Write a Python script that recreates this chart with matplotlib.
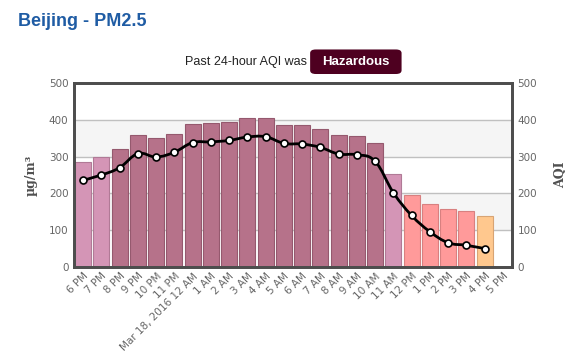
import numpy as np
import matplotlib
matplotlib.use('Agg')
import matplotlib.pyplot as plt
from matplotlib.path import Path
from matplotlib.patches import PathPatch, FancyBboxPatch

# data
hours = ['6 PM', '7 PM', '8 PM', '9 PM', '10 PM', '11 PM', 'Mar 18, 2016 12 AM',
         '1 AM', '2 AM', '3 AM', '4 AM', '5 AM', '6 AM', '7 AM', '8 AM', '9 AM',
         '10 AM', '11 AM', '12 PM', '1 PM', '2 PM', '3 PM', '4 PM', '5 PM']
pm25 = [285, 300, 320, 358, 350, 361, 388, 390, 394, 404, 404, 386, 386, 374,
        358, 355, 336, 252, 195, 170, 157, 151, 138]
aqi = [236, 250, 270, 308, 299, 312, 338, 340, 344, 353, 354, 336, 334, 325,
       307, 305, 287, 202, 140, 96, 66, 59, 50]

# AQI level colours (faded like the original)
def level_color(v):
    if v > 300:
        return '#b6728a', '#95596e'
    if v > 200:
        return '#d495b6', '#b07a96'
    if v > 150:
        return '#ff9a9a', '#d88080'
    return '#ffc88e', '#d8a474'

fig = plt.figure(figsize=(5.68, 3.61), dpi=100)
ax = fig.add_axes([0.1303, 0.2604, 0.7711, 0.5097])
ax2 = ax.twinx()

x = np.arange(len(hours))
ax.set_xlim(-0.5, len(hours) - 0.5)
ax.set_ylim(0, 500)
ax2.set_ylim(0, 500)

# alternating bands + grid
for lo in (100, 300):
    ax.axhspan(lo, lo + 100, color='#f5f5f5', zorder=0, lw=0)
for g in (100, 200, 300, 400):
    ax.axhline(g, color='#c0c0c0', lw=1, zorder=0.5)

cols = [level_color(v) for v in pm25]
ax.bar(x[:len(pm25)], pm25, width=0.87, color=[c[0] for c in cols],
       edgecolor=[c[1] for c in cols], linewidth=0.8, zorder=2)

# spline line like highcharts
pts = list(zip(x[:len(aqi)], aqi))
verts = [pts[0]]
codes = [Path.MOVETO]
def conts(i):
    px, py = pts[i]
    if i == 0 or i == len(pts) - 1:
        return (px, py), (px, py)
    lx, ly = pts[i - 1]
    nx, ny = pts[i + 1]
    lcx, lcy = (1.5 * px + lx) / 2.5, (1.5 * py + ly) / 2.5
    rcx, rcy = (1.5 * px + nx) / 2.5, (1.5 * py + ny) / 2.5
    corr = (rcy - lcy) * (rcx - px) / (rcx - lcx) + py - rcy
    return (lcx, lcy + corr), (rcx, rcy + corr)
for i in range(1, len(pts)):
    verts += [conts(i - 1)[1], conts(i)[0], pts[i]]
    codes += [Path.CURVE4] * 3
ax2.add_patch(PathPatch(Path(verts, codes), fill=False, ec='black', lw=2, zorder=3))
ax2.plot(x[:len(aqi)], aqi, ls='none', marker='o', ms=5, mfc='white',
         mec='black', mew=1.2, zorder=4)

for a in (ax, ax2):
    for s in a.spines.values():
        s.set_color('#4d4d4d')
        s.set_linewidth(2)
    a.set_yticks(range(0, 501, 100))
    a.tick_params(length=0, labelsize=7.5, labelcolor='#666666', pad=4)

ax.set_xticks(x)
ax.set_xticklabels(hours, rotation=45, ha='right', rotation_mode='anchor')
ax.tick_params(axis='x', pad=3)

ax.set_ylabel('µg/m³', family='DejaVu Serif', fontweight='bold', fontsize=9,
              color='#505050', labelpad=8)
ax2.set_ylabel('AQI', family='DejaVu Serif', fontweight='bold', fontsize=9,
               color='#505050', labelpad=12)

fig.text(0.032, 0.94, 'Beijing - PM2.5', family='Liberation Sans', fontweight='bold',
         fontsize=13, color='#1f5ca4', va='center')
fig.text(0.54, 0.829, 'Past 24-hour AQI was', family='Liberation Sans', fontsize=9,
         color='#222222', ha='right', va='center')
fig.patches.append(FancyBboxPatch((0.546, 0.795), 0.161, 0.068,
                                  boxstyle='round,pad=0,rounding_size=0.01',
                                  transform=fig.transFigure, fc='#4e0020', ec='none'))
fig.text(0.626, 0.829, 'Hazardous', family='Liberation Sans', fontweight='bold',
         fontsize=9.5, color='white', ha='center', va='center')

fig.savefig('out.png', dpi=100)
